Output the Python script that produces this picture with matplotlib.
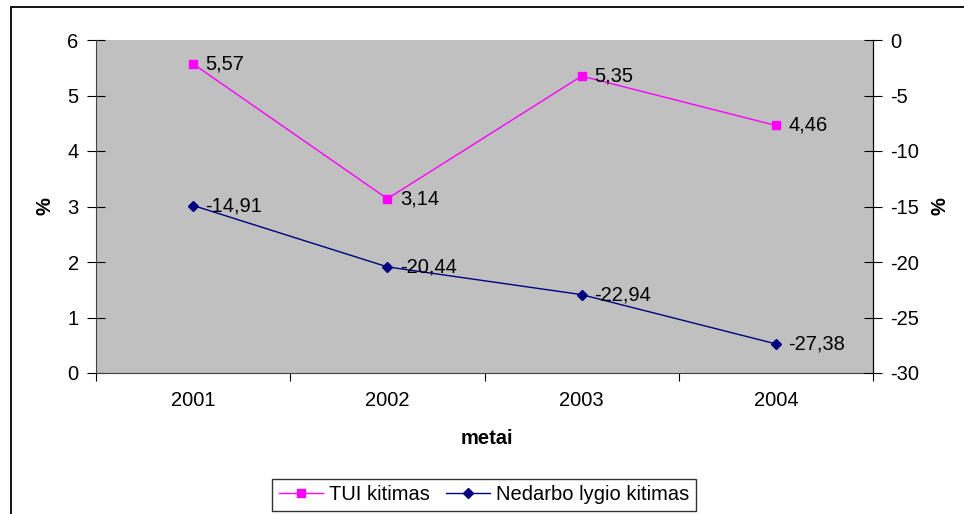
import matplotlib.pyplot as plt
from matplotlib.patches import Rectangle

years = ["2001", "2002", "2003", "2004"]
tui = [5.57, 3.14, 5.35, 4.46]
nedarbo = [-14.91, -20.44, -22.94, -27.38]

plt.rcParams['font.family'] = ['Liberation Sans', 'DejaVu Sans']
plt.rcParams['axes.unicode_minus'] = False
FS = 14.5

W, H = 964, 514
fig = plt.figure(figsize=(W / 100, H / 100), dpi=100)

# outer chart border (right and bottom edges fall outside the image)
fig.patches.append(Rectangle((11 / W, -0.05), 1, 1.05 - 7 / H, transform=fig.transFigure,
                             fill=False, edgecolor='black', linewidth=1.3))

left, right, top, bottom = 96, 873, 40, 373
ax = fig.add_axes([left / W, 1 - bottom / H, (right - left) / W, (bottom - top) / H])
ax.set_facecolor('#C0C0C0')

x = range(len(years))
ax.plot(x, tui, color='#FF00FF', marker='s', markersize=6, linewidth=1)
ax.set_xlim(-0.5, len(years) - 0.5)
ax.set_ylim(0, 6)
ax.set_yticks(range(0, 7))
ax.set_xticks([i + 0.5 for i in range(-1, len(years))])
ax.set_xticklabels([])
ax.set_xticks(list(x), minor=True)
ax.set_xticklabels(years, minor=True, fontsize=FS)
ax.tick_params(axis='x', which='major', direction='out', length=6, color='black')
ax.tick_params(axis='x', which='minor', length=0, pad=13)
ax.tick_params(axis='y', direction='inout', length=13, labelsize=FS, pad=6)

ax2 = ax.twinx()
ax2.plot(x, nedarbo, color='#000080', marker='D', markersize=5, linewidth=1)
ax2.set_ylim(-30, 0)
ax2.set_yticks(range(-30, 1, 5))
ax2.tick_params(axis='y', direction='inout', length=13, labelsize=FS, pad=6)

for a in (ax, ax2):
    a.spines['top'].set_visible(False)
ax.spines['left'].set_color('#404040')
ax.spines['bottom'].set_color('#404040')
ax2.spines['left'].set_visible(False)
ax2.spines['bottom'].set_visible(False)
ax2.spines['right'].set_color('black')

for i, v in enumerate(tui):
    ax.annotate(f"{v:.2f}".replace('.', ','), (i, v), xytext=(9, 0),
                textcoords='offset points', va='center', fontsize=FS)
for i, v in enumerate(nedarbo):
    ax2.annotate(f"{v:.2f}".replace('.', ','), (i, v), xytext=(9, 0),
                 textcoords='offset points', va='center', fontsize=FS)

fig.text(45 / W, 1 - 206 / H, '%', rotation=90, fontsize=FS, fontweight='bold',
         ha='center', va='center')
fig.text(940 / W, 1 - 206 / H, '%', rotation=90, fontsize=FS, fontweight='bold',
         ha='center', va='center')
fig.text(487 / W, 1 - 438 / H, 'metai', fontsize=FS, fontweight='bold',
         ha='center', va='center')

h1 = ax.get_lines()[0]
h2 = ax2.get_lines()[0]
leg = fig.legend([h1, h2], ['TUI kitimas', 'Nedarbo lygio kitimas'],
                 loc='center', bbox_to_anchor=(484 / W, 1 - 495 / H), ncol=2,
                 fontsize=FS, frameon=True, fancybox=False, handlelength=2.2,
                 handletextpad=0.3, columnspacing=0.8, borderpad=0.3)
leg.get_frame().set_edgecolor('black')
leg.get_frame().set_linewidth(1)

fig.savefig('out.png', dpi=100)
